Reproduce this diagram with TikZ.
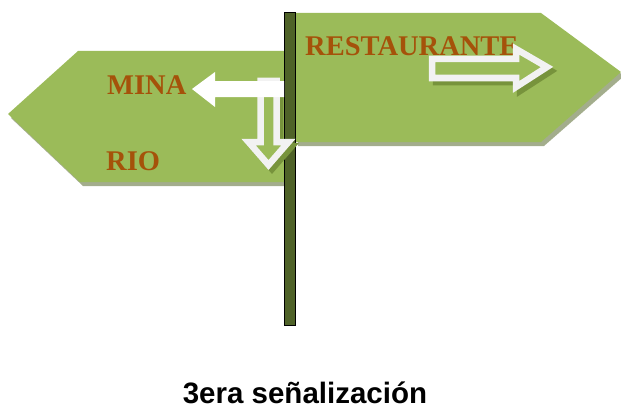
\documentclass[tikz,border=0pt]{standalone}
\usepackage{fontspec}
\setmainfont{Liberation Serif}
\newfontfamily\capfont{Liberation Sans}
\definecolor{signgreen}{HTML}{9BBB59}
\definecolor{signshadow}{HTML}{A3AD8C}
\definecolor{arrowshadow}{HTML}{77933C}
\definecolor{postgreen}{HTML}{4F6228}
\definecolor{signtext}{HTML}{A5520A}
\definecolor{arrowwhite}{HTML}{F2F2F2}
\begin{document}
\begin{tikzpicture}[x=1pt,y=-1pt,
  signbody/.style={fill=signgreen,draw=none},
  signshade/.style={fill=signshadow,draw=none},
  signlabel/.style={text=signtext,font=\bfseries\fontsize{28.5}{28.5}\selectfont,inner sep=0pt},
  hollowarrow/.style={fill=signgreen,draw=arrowwhite,line width=6.5pt,line join=miter},
  hollowshade/.style={draw=arrowshadow,line width=6.5pt,line join=miter},
  solidarrow/.style={fill=white,draw=none},
  postbar/.style={fill=postgreen,draw=black,line width=1.8pt}]
\useasboundingbox (0,0) rectangle (621,412);
% left sign
\fill[signshade] (81,55) -- (290,55) -- (290,186) -- (83,186) -- (11,118) -- cycle;
\fill[signbody] (78,51) -- (290,51) -- (290,182) -- (80,182) -- (8,114) -- cycle;
% right sign
\fill[signshade] (298,17) -- (544,17) -- (624,76) -- (544,146) -- (298,146) -- cycle;
\fill[signbody] (295,13) -- (541,13) -- (621,72) -- (541,142) -- (295,142) -- cycle;
% labels
\node[signlabel,anchor=base west] (mina) at (107,95) {MINA};
\node[signlabel,anchor=base west] (rio) at (106,170) {RIO};
\node[signlabel,anchor=base west] (rest) at (305,56) {RESTAURANTE};
% right hollow arrow (RESTAURANTE)
\draw[hollowshade] (436,63) -- (520,63) -- (520,53) -- (551,71) -- (520,91) -- (520,82) -- (436,82) -- cycle;
\draw[hollowarrow] (432,59) -- (516,59) -- (516,49) -- (547,67) -- (516,87) -- (516,78) -- (432,78) -- cycle;
% post
\draw[postbar] (284.5,12.5) rectangle (295.5,325.5);
% down hollow arrow (RIO)
\draw[hollowshade] (264,85) -- (264,146) -- (252,146) -- (272,169) -- (292,146) -- (280,146) -- (280,85) -- cycle;
\draw[hollowarrow] (260.5,81) -- (260.5,142) -- (248.5,142) -- (268.5,165) -- (288.5,142) -- (276.5,142) -- (276.5,81) -- cycle;
% left solid arrow (MINA)
\fill[solidarrow] (284,81) -- (215,81) -- (215,72) -- (192,89) -- (215,107) -- (215,97) -- (284,97) -- cycle;
% caption
\node[font=\capfont\bfseries\fontsize{29.5}{29.5}\selectfont,anchor=base] (caption) at (305,403) {3era señalización};
\end{tikzpicture}
\end{document}
